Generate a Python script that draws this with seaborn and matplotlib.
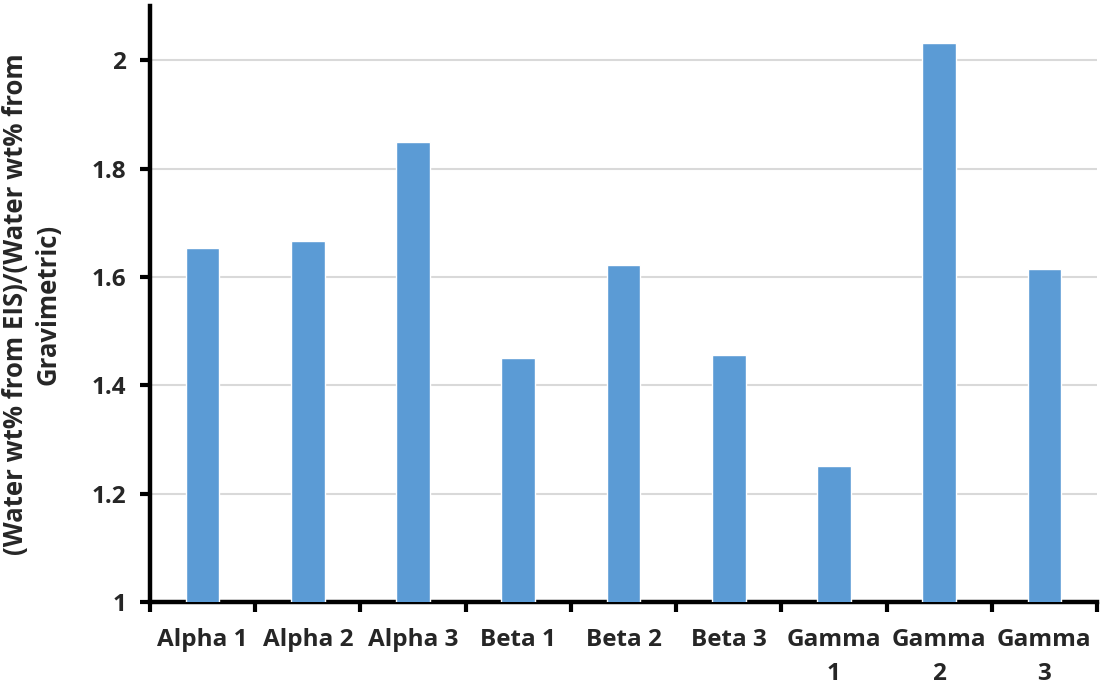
import matplotlib
matplotlib.use("Agg")
import matplotlib.pyplot as plt
from matplotlib.ticker import FixedLocator
import seaborn as sns
import pandas as pd

categories = ["Alpha 1", "Alpha 2", "Alpha 3", "Beta 1", "Beta 2", "Beta 3",
              "Gamma\n1", "Gamma\n2", "Gamma\n3"]
ratios = [1.653, 1.666, 1.849, 1.450, 1.622, 1.456, 1.251, 2.031, 1.614]
y_ticks = [1, 1.2, 1.4, 1.6, 1.8, 2]
y_tick_labels = ["1", "1.2", "1.4", "1.6", "1.8", "2"]

sns.set_theme(style="white")
plt.rcParams["font.family"] = ["Open Sans", "DejaVu Sans"]
plt.rcParams["font.weight"] = "bold"

df = pd.DataFrame({"sample": categories, "ratio": ratios})

fig = plt.figure(figsize=(11.02, 6.92), dpi=100)
ax = fig.add_axes([0.1361, 0.1301, 0.8594, 0.8612])

sns.barplot(data=df, x="sample", y="ratio", color="#5B9BD5", saturation=1,
            width=0.32, ax=ax, zorder=3)

ax.set_ylim(1, 2.1)
ax.set_xlim(-0.5, len(categories) - 0.5)
ax.set_yticks(y_ticks)
ax.set_yticklabels(y_tick_labels, fontsize=17.5, fontweight="bold")
ax.yaxis.grid(True, color="#d9d9d9", linewidth=1.5, zorder=0)
ax.set_axisbelow(True)

# category labels at centres, tick marks at category boundaries
ax.set_xticks(range(len(categories)))
ax.set_xticklabels(categories, fontsize=17.5, fontweight="bold", linespacing=1.55,
                   va="top")
ax.tick_params(axis="x", which="major", length=0, pad=19)
ax.xaxis.set_minor_locator(FixedLocator([i - 0.5 for i in range(len(categories) + 1)]))
ax.tick_params(axis="x", which="minor", length=7, width=3, color="black",
               direction="out", bottom=True)
ax.tick_params(axis="y", which="major", length=7, width=3, color="black",
               direction="out", left=True, pad=10)

for side in ["top", "right"]:
    ax.spines[side].set_visible(False)
for side in ["left", "bottom"]:
    ax.spines[side].set_color("black")
    ax.spines[side].set_linewidth(3.2)

ax.set_xlabel("")
ax.set_ylabel("(Water wt% from EIS)/(Water wt% from\nGravimetric)", fontsize=18.5,
              fontweight="bold", linespacing=1.25, labelpad=22)

fig.savefig("out.png", dpi=100)
